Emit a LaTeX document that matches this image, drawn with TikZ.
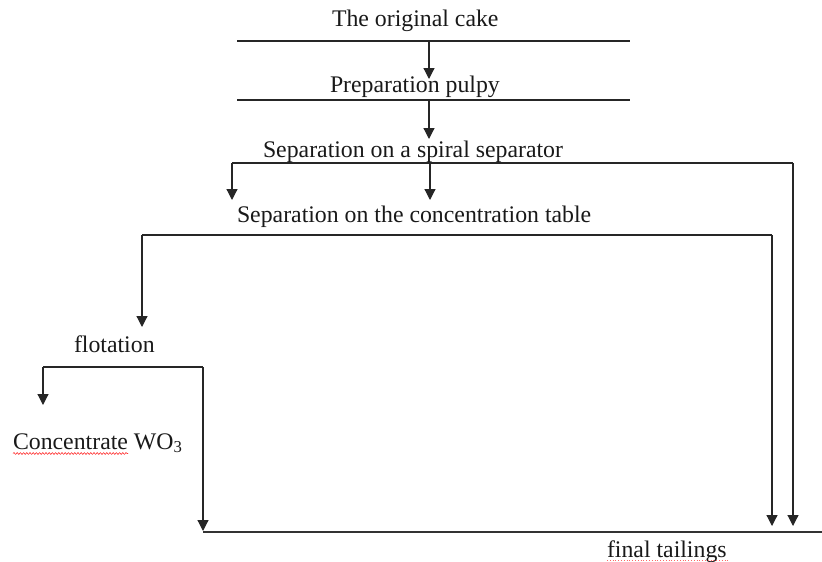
\documentclass[tikz,border=0pt]{standalone}
\usepackage{fontspec}
\setmainfont{Liberation Serif}
\usetikzlibrary{arrows.meta,decorations.pathmorphing}
\begin{document}
\begin{tikzpicture}[x=1pt,y=-1pt,
  lbl/.style={anchor=base west,inner sep=0pt,outer sep=0pt,font=\fontsize{23.8}{28}\selectfont,text=black!90},
  bar/.style={line width=2.2pt,black!85},
  thinbar/.style={line width=1.2pt,black!80},
  vline/.style={line width=1.2pt,black!85},
  arr/.style={vline,-{Triangle[width=11pt,length=11pt]}},
  spell/.style={red!80,line width=0.6pt,decorate,decoration={snake,amplitude=0.9pt,segment length=3.2pt}},
  gram/.style={red!60,line width=0.8pt,dotted}]
\useasboundingbox (0,0) rectangle (822,562);
% texts
\node[lbl] (t1) at (332,27) {The original cake};
\node[lbl] (t2) at (330,92) {Preparation pulpy};
\node[lbl] (t3) at (263,157) {Separation on a spiral separator};
\node[lbl] (t4) at (237,222) {Separation on the concentration table};
\node[lbl] (t5) at (74,352) {flotation};
\node[lbl] (t6) at (13,449) {Concentrate WO\textsubscript{3}};
\node[lbl] (t7) at (607,557) {final tailings};
% coordinates
\coordinate (l1w) at (237,41);  \coordinate (l1e) at (630,41);
\coordinate (l2w) at (237,100); \coordinate (l2e) at (630,100);
\coordinate (l3w) at (232,163); \coordinate (l3e) at (793,163);
\coordinate (l4w) at (142,235); \coordinate (l4e) at (772,235);
\coordinate (l5w) at (43,367);  \coordinate (l5e) at (203,367);
\coordinate (l6w) at (203,532); \coordinate (l6e) at (822,532);
\coordinate (a1s) at (429,41);  \coordinate (a1e) at (429,79);
\coordinate (a2s) at (429,100); \coordinate (a2e) at (429,139);
\coordinate (a3s) at (430,163); \coordinate (a3e) at (430,200);
\coordinate (a4e) at (232,200);
\coordinate (a5e) at (142,327);
\coordinate (a6e) at (43,405);
\coordinate (a7e) at (203,531);
\coordinate (a8e) at (772,526);
\coordinate (a9e) at (793,526);
% horizontal bars
\draw[bar] (l1w) -- (l1e);
\draw[bar] (l2w) -- (l2e);
\draw[bar] (l3w) -- (l3e);
\draw[bar] (l4w) -- (l4e);
\draw[bar] (l5w) -- (l5e);
\draw[thinbar] (l6w) -- (l6e);
% arrows
\draw[arr] (a1s) -- (a1e);
\draw[arr] (a2s) -- (a2e);
\draw[arr] (a3s) -- (a3e);
\draw[arr] (l3w) -- (a4e);
\draw[arr] (l4w) -- (a5e);
\draw[arr] (l5w) -- (a6e);
\draw[arr] (l5e) -- (a7e);
\draw[arr] (l4e) -- (a8e);
\draw[arr] (l3e) -- (a9e);
% proofing marks
\draw[spell] (13,453.5) -- (128,453.5);
\draw[gram] (607,560.5) -- (728,560.5);
\end{tikzpicture}
\end{document}
